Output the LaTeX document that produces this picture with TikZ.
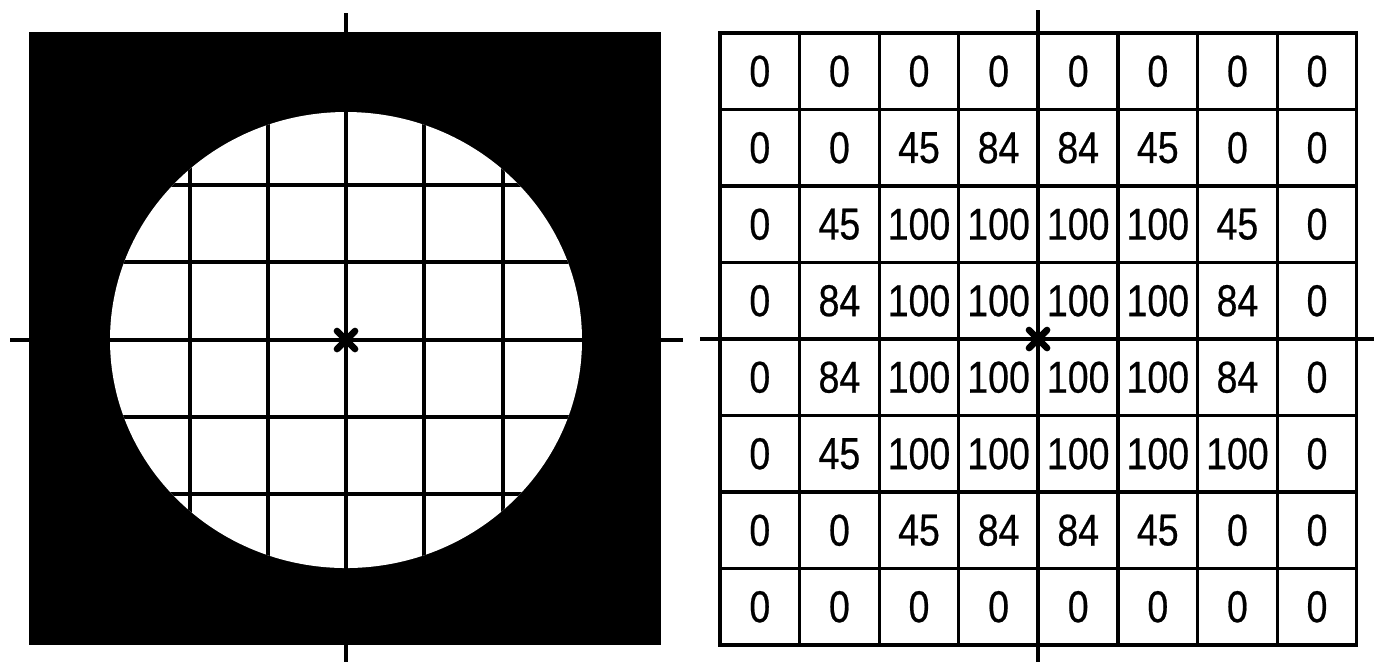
\documentclass[tikz,border=0pt]{standalone}
\usepackage{fontspec}
\setmainfont[FakeStretch=0.84,FakeBold=0.5]{Liberation Sans}
\usetikzlibrary{positioning}
\begin{document}
\begin{tikzpicture}[x=0.1mm,y=-0.1mm,line width=0.9pt,
  cell/.style={draw,minimum width=7.96mm,minimum height=7.65mm,inner sep=0pt,font=\fontsize{12.7}{15}\selectfont},
  axis/.style={line width=1pt},
  star/.style={line width=1.9pt,line cap=round}]
  \useasboundingbox (0,0) rectangle (1374,662);
  % aperture
  \fill (29,32) rectangle (661,645);
  \coordinate (L) at (346,340);
  \fill[white] (L) ellipse [x radius=236,y radius=228];
  \begin{scope}
    \clip (L) ellipse [x radius=236,y radius=228];
    \foreach \x in {190,268,424,503} \draw (\x,100)--(\x,580);
    \foreach \y in {185,262,417,494} \draw (100,\y)--(600,\y);
  \end{scope}
  \coordinate (Lw) at (10,340);
  \coordinate (Le) at (683,340);
  \coordinate (Ln) at (346,13);
  \coordinate (Ls) at (346,662);
  \draw[axis] (Lw)--(Le);
  \draw[axis] (Ln)--(Ls);
  \draw[star] (L) ++(-9,-9) -- ++(18,18) (L) ++(-9,9) -- ++(18,-18);
  % sampled values
  \foreach \row [count=\r] in {{0,0,0,0,0,0,0,0},{0,0,45,84,84,45,0,0},
      {0,45,100,100,100,100,45,0},{0,84,100,100,100,100,84,0},
      {0,84,100,100,100,100,84,0},{0,45,100,100,100,100,100,0},
      {0,0,45,84,84,45,0,0},{0,0,0,0,0,0,0,0}}
    \foreach \v [count=\c] in \row
      \node[cell] (c\r\c) at ({720+79.6*(\c-0.5)},{33+76.5*(\r-0.5)}) {\v};
  \coordinate (R) at (1038,339);
  \coordinate (Rw) at (700,339);
  \coordinate (Re) at (1374,339);
  \coordinate (Rn) at (1038,10);
  \coordinate (Rs) at (1038,662);
  \draw[axis] (Rw)--(Re);
  \draw[axis] (Rn)--(Rs);
  \draw[star] (R) ++(-9,-9) -- ++(18,18) (R) ++(-9,9) -- ++(18,-18);
\end{tikzpicture}
\end{document}
